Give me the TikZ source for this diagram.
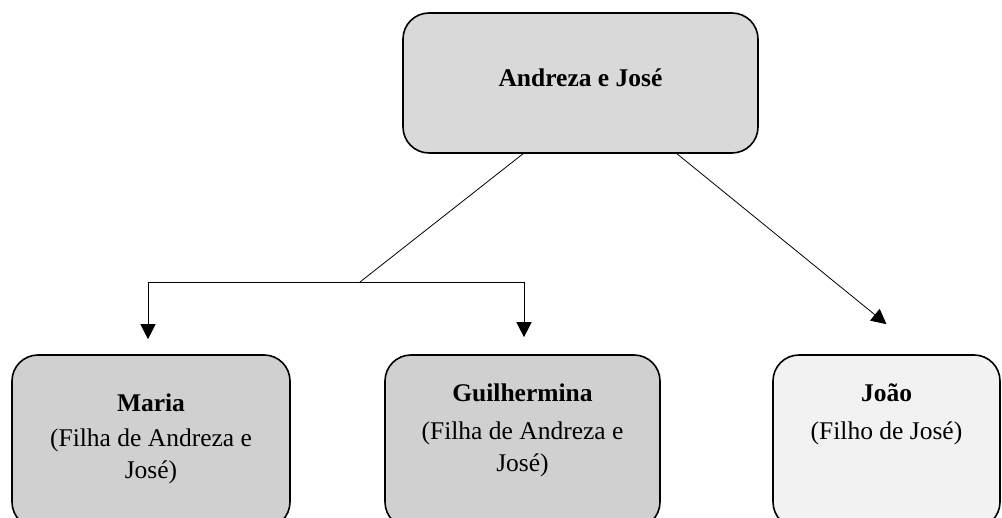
\documentclass[tikz,border=0pt]{standalone}
\usepackage{fontspec}
\setmainfont{Liberation Serif}
\usetikzlibrary{arrows.meta}
\definecolor{topfill}{HTML}{D9D9D9}
\definecolor{midfill}{HTML}{D0D0D0}
\definecolor{lightfill}{HTML}{F2F2F2}
\tikzset{
  box/.style={draw=black, line width=1.6pt, rounded corners=26pt, inner sep=0pt},
  title/.style={font=\fontsize{25.5}{31}\selectfont\bfseries, inner sep=0pt},
  sub/.style={font=\fontsize{25.5}{32}\selectfont, align=center, inner sep=0pt},
  conn/.style={line width=0.8pt, black},
  tip/.style={conn, -{Triangle[length=15pt,width=15pt]}}
}
\begin{document}
\begin{tikzpicture}[x=1pt,y=1pt]
\clip (0,0) rectangle (1002,-518);
\fill[white] (0,0) rectangle (1002,-518);
% boxes
\node[box, fill=topfill, minimum width=355pt, minimum height=140pt] (top) at (580.5,-83) {};
\node[box, fill=midfill, minimum width=278pt, minimum height=173pt] (maria) at (151,-441.5) {};
\node[box, fill=midfill, minimum width=275pt, minimum height=173pt] (guil) at (522.5,-441.5) {};
\node[box, fill=lightfill, minimum width=227pt, minimum height=173pt] (joao) at (886.5,-441.5) {};
% texts
\node[title] (ttop) at (580.5,-78) {Andreza e José};
\node[title] (tmaria) at (151,-403) {Maria};
\node[sub] (smaria) at (151,-456) {(Filha de Andreza e\\José)};
\node[title] (tguil) at (522.5,-393) {Guilhermina};
\node[sub] (sguil) at (522.5,-449) {(Filha de Andreza e\\José)};
\node[title] (tjoao) at (886.5,-393) {João};
\node[sub] (sjoao) at (886.5,-433) {(Filho de José)};
% connectors
\coordinate (j) at (360,-282);
\draw[conn] ([xshift=-57.5pt]top.south) -- (j);
\draw[tip] (j) -| ([xshift=-3pt,yshift=15pt]maria.north);
\draw[tip] (j) -| ([xshift=1.5pt,yshift=17pt]guil.north);
\draw[tip] ([xshift=96.5pt]top.south) -- ([yshift=30pt]joao.north);
\end{tikzpicture}
\end{document}
